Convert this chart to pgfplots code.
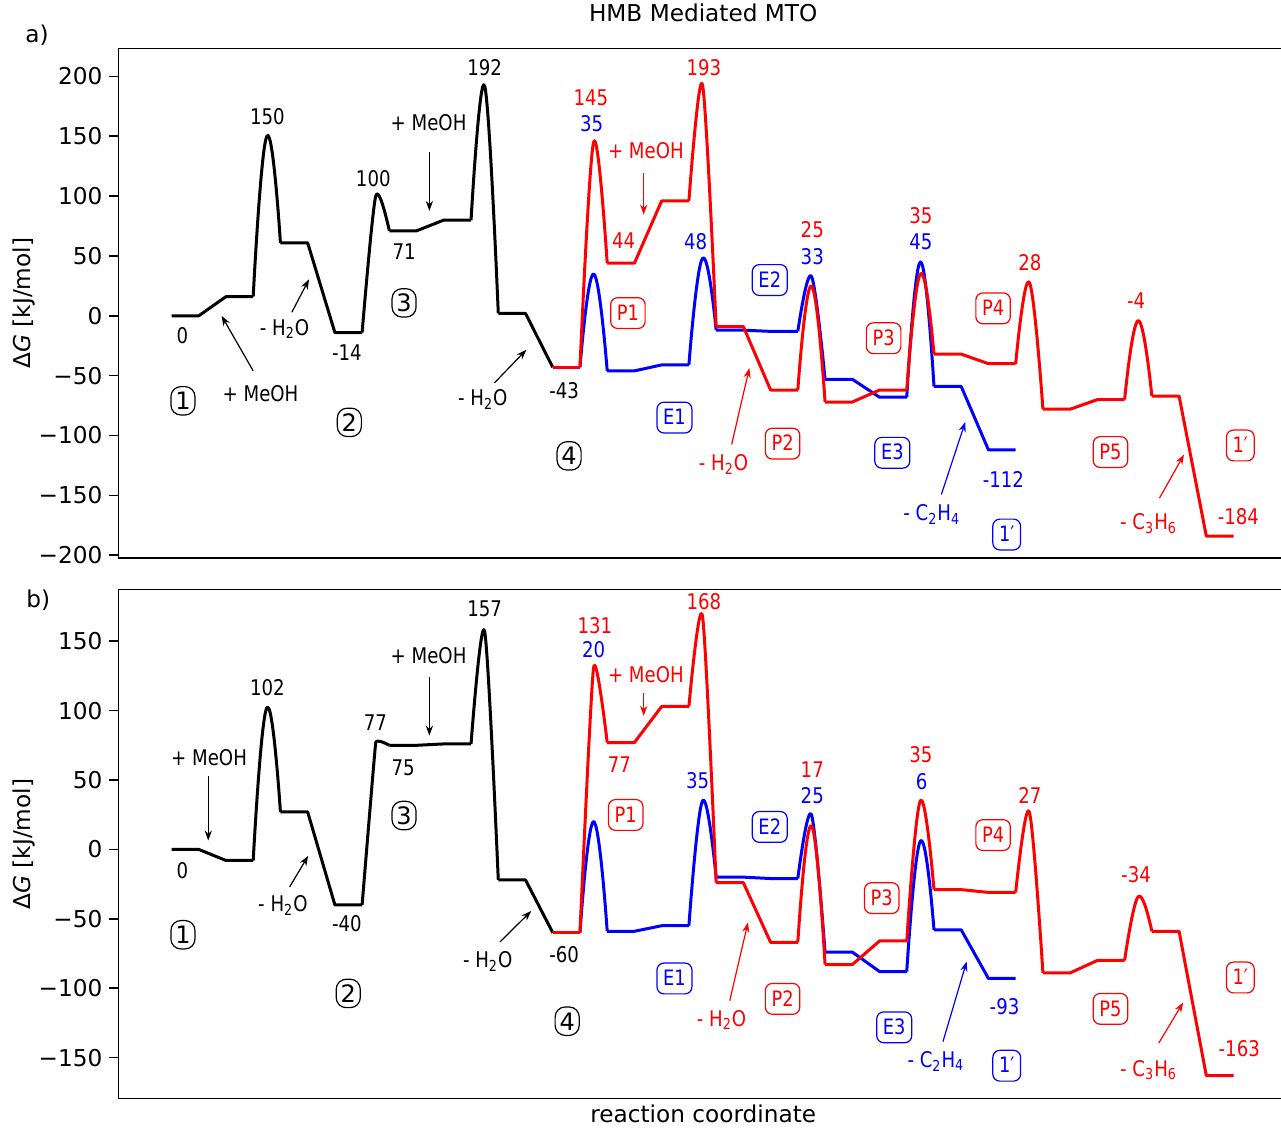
\documentclass[border=0pt]{standalone}
\usepackage{fontspec}
\setmainfont{DejaVu Sans}
\newfontfamily\annfont{DejaVu Sans}[FakeStretch=0.84]
\usepackage{pgfplots}
\pgfplotsset{compat=1.18}
\usetikzlibrary{arrows.meta}
\definecolor{mred}{rgb}{1,0,0}
\definecolor{mblue}{rgb}{0,0,1}
\tikzset{
  ann/.style={font=\annfont\fontsize{10.8bp}{12bp}\selectfont, inner sep=0pt},
  lbox/.style={draw, rounded corners=3.5bp, line width=0.6bp, font=\annfont\fontsize{10.6bp}{12bp}\selectfont, inner xsep=3.1bp, inner ysep=3.1bp, text height=8.2bp, text depth=1.0bp},
  cbox/.style={draw, rounded corners=5bp, line width=0.6bp, font=\fontsize{12bp}{14bp}\selectfont, inner xsep=2.2bp, inner ysep=2.7bp, text height=8.8bp, text depth=0bp},
  arr/.style={-{Stealth[length=5bp,width=3.6bp]}, line width=0.6bp},
}
\pgfplotsset{
  panel/.style={
    scale only axis, width=584.8bp, xmin=-1.95, xmax=41,
    xtick=\empty, axis line style={line width=0.8bp},
    ytick pos=left, tick align=outside, major tick length=4.5bp,
    every tick/.style={line width=0.8bp, black},
    ticklabel style={font=\fontsize{11.6bp}{13bp}\selectfont},
    clip=false,
    ylabel={Δ\textit{G} [kJ/mol]},
    every axis y label/.style={at={(axis description cs:-0.0811,0.5)}, rotate=90, anchor=center, font=\fontsize{11.6bp}{13bp}\selectfont},
  },
  lev/.style={line width=1.5bp, mark=none, sharp plot, line join=round},
  ts/.style={line width=1.5bp, mark=none, smooth, tension=0.8, line join=round},
}
\begin{document}
\begin{tikzpicture}
% ================= panel a =================
\begin{axis}[panel, at={(59.2bp,285bp)}, anchor=south west, height=254.8bp,
  ymin=-202.3, ymax=223.4,
  ytick={-200,-150,-100,-50,0,50,100,150,200},
  yticklabels={−200,−150,−100,−50,0,50,100,150,200},
  title={HMB Mediated MTO},
  title style={at={(axis description cs:0.5,1.0292)}, anchor=base, font=\fontsize{11.6bp}{13bp}\selectfont},
]
% black
\addplot[lev, black] coordinates {(0,0) (1,0) (2,16) (3,16)};
\addplot[ts, black] coordinates {(3,16) (3.5,150) (4,61)};
\addplot[lev, black] coordinates {(4,61) (5,61) (6,-14) (7,-14)};
\addplot[ts, black, tension=0.45] coordinates {(7,-14) (7.5,100) (8,71)};
\addplot[lev, black] coordinates {(8,71) (9,71) (10,80) (11,80)};
\addplot[ts, black, tension=0.65] coordinates {(11,80) (11.5,192) (12,2)};
\addplot[lev, black] coordinates {(12,2) (13,2) (14,-43)};
% blue
\addplot[lev, mblue] coordinates {(14,-43) (15,-43)};
\addplot[ts, mblue] coordinates {(15,-43) (15.5,35) (16,-46)};
\addplot[lev, mblue] coordinates {(16,-46) (17,-46) (18,-41) (19,-41)};
\addplot[ts, mblue] coordinates {(19,-41) (19.5,48) (20,-12)};
\addplot[lev, mblue] coordinates {(20,-12) (21,-12) (22,-13) (23,-13)};
\addplot[ts, mblue, tension=0.6] coordinates {(23,-13) (23.5,33) (24,-53)};
\addplot[lev, mblue] coordinates {(24,-53) (25,-53) (26,-68) (27,-68)};
\addplot[ts, mblue] coordinates {(27,-68) (27.5,45) (28,-59)};
\addplot[lev, mblue] coordinates {(28,-59) (29,-59) (30,-112) (31,-112)};
% red
\addplot[lev, mred] coordinates {(14,-43) (15,-43)};
\addplot[ts, mred, tension=0.6] coordinates {(15,-43) (15.5,145) (16,44)};
\addplot[lev, mred] coordinates {(16,44) (17,44) (18,96) (19,96)};
\addplot[ts, mred, tension=0.5] coordinates {(19,96) (19.5,193) (20,-9)};
\addplot[lev, mred] coordinates {(20,-9) (21,-9) (22,-62) (23,-62)};
\addplot[ts, mred] coordinates {(23,-62) (23.5,25) (24,-72)};
\addplot[lev, mred] coordinates {(24,-72) (25,-72) (26,-62) (27,-62)};
\addplot[ts, mred] coordinates {(27,-62) (27.5,35) (28,-32)};
\addplot[lev, mred] coordinates {(28,-32) (29,-32) (30,-40) (31,-40)};
\addplot[ts, mred, tension=0.7] coordinates {(31,-40) (31.5,28) (32,-78)};
\addplot[lev, mred] coordinates {(32,-78) (33,-78) (34,-70) (35,-70)};
\addplot[ts, mred] coordinates {(35,-70) (35.5,-4) (36,-67)};
\addplot[lev, mred] coordinates {(36,-67) (37,-67) (38,-184) (39,-184)};
% black annotations
\node[ann] at (axis cs:0.40,-16.2) {0};
\node[ann] at (axis cs:3.52,166.6) {150};
\node[ann] at (axis cs:4.15,-11) {- H\textsubscript{2}O};
\draw[arr] (axis cs:4.42,3) -- (axis cs:5.05,30.5);
\node[ann] at (axis cs:3.27,-65) {+ MeOH};
\draw[arr] (axis cs:3.0,-46) -- (axis cs:1.84,0);
\node[ann] at (axis cs:6.44,-31) {-14};
\node[ann] at (axis cs:7.41,115) {100};
\node[ann] at (axis cs:8.54,54) {71};
\node[ann] at (axis cs:9.44,161.4) {+ MeOH};
\draw[arr] (axis cs:9.47,137) -- (axis cs:9.47,87.6);
\node[ann] at (axis cs:11.5,207.6) {192};
\node[ann] at (axis cs:11.43,-70) {- H\textsubscript{2}O};
\draw[arr] (axis cs:11.86,-56) -- (axis cs:13.03,-28.4);
\node[ann] at (axis cs:14.42,-62.7) {-43};
\node[cbox] at (axis cs:0.42,-71) {1};
\node[cbox] at (axis cs:6.53,-89) {2};
\node[cbox] at (axis cs:8.54,10.8) {3};
\node[cbox] at (axis cs:14.6,-117) {4};
% red annotations
\begin{scope}[mred]
\node[ann] at (axis cs:15.4,181.8) {145};
\node[ann] at (axis cs:16.6,62.4) {44};
\node[ann] at (axis cs:17.42,137.7) {+ MeOH};
\draw[arr] (axis cs:17.34,119.5) -- (axis cs:17.34,84.6);
\node[lbox] at (axis cs:16.76,2.3) {P1};
\node[ann] at (axis cs:19.55,207.6) {193};
\node[ann] at (axis cs:23.53,71.8) {25};
\node[ann] at (axis cs:27.52,84) {35};
\node[lbox] at (axis cs:26.15,-18.7) {P3};
\node[lbox] at (axis cs:30.17,6.2) {P4};
\node[ann] at (axis cs:31.52,44.5) {28};
\node[ann] at (axis cs:35.42,12.3) {-4};
\node[ann] at (axis cs:20.27,-124.4) {- H\textsubscript{2}O};
\draw[arr] (axis cs:20.57,-107.4) -- (axis cs:21.22,-43.6);
\node[lbox] at (axis cs:22.44,-106.8) {P2};
\node[lbox] at (axis cs:34.48,-113.8) {P5};
\node[ann] at (axis cs:35.88,-173.6) {- C\textsubscript{3}H\textsubscript{6}};
\draw[arr] (axis cs:36.28,-152.3) -- (axis cs:37.18,-115.9);
\node[lbox] at (axis cs:39.25,-108.3) {1′};
\node[ann] at (axis cs:39.18,-168) {-184};
\end{scope}
% blue annotations
\begin{scope}[mblue]
\node[ann] at (axis cs:15.43,160.5) {35};
\node[ann] at (axis cs:19.25,61.8) {48};
\node[lbox] at (axis cs:21.97,29.9) {E2};
\node[ann] at (axis cs:23.53,49.7) {33};
\node[ann] at (axis cs:27.52,61.8) {45};
\node[lbox] at (axis cs:18.47,-85) {E1};
\node[lbox] at (axis cs:26.47,-114.4) {E3};
\node[ann] at (axis cs:27.92,-166) {- C\textsubscript{2}H\textsubscript{4}};
\draw[arr] (axis cs:28.27,-149.3) -- (axis cs:29.15,-88.6);
\node[ann] at (axis cs:30.55,-137) {-112};
\node[lbox] at (axis cs:30.67,-182.7) {1′};
\end{scope}
\end{axis}
% ================= panel b =================
\begin{axis}[panel, at={(59.2bp,14.75bp)}, anchor=south west, height=254.45bp,
  ymin=-179.5, ymax=187.2,
  ytick={-150,-100,-50,0,50,100,150},
  yticklabels={−150,−100,−50,0,50,100,150},
  xlabel={reaction coordinate},
  xlabel style={at={(axis description cs:0.5,-0.047)}, anchor=base, font=\fontsize{11.6bp}{13bp}\selectfont},
]
% black
\addplot[lev, black] coordinates {(0,0) (1,0) (2,-8) (3,-8)};
\addplot[ts, black] coordinates {(3,-8) (3.5,102) (4,27)};
\addplot[lev, black] coordinates {(4,27) (5,27) (6,-40) (7,-40)};
\addplot[ts, black, tension=0.1] coordinates {(7,-40) (7.5,77) (8,75)};
\addplot[lev, black] coordinates {(8,75) (9,75) (10,76) (11,76)};
\addplot[ts, black, tension=0.5] coordinates {(11,76) (11.5,157) (12,-22)};
\addplot[lev, black] coordinates {(12,-22) (13,-22) (14,-60)};
% blue
\addplot[lev, mblue] coordinates {(14,-60) (15,-60)};
\addplot[ts, mblue] coordinates {(15,-60) (15.5,20) (16,-59)};
\addplot[lev, mblue] coordinates {(16,-59) (17,-59) (18,-55) (19,-55)};
\addplot[ts, mblue, tension=0.7] coordinates {(19,-55) (19.5,35) (20,-20)};
\addplot[lev, mblue] coordinates {(20,-20) (21,-20) (22,-21) (23,-21)};
\addplot[ts, mblue, tension=0.55] coordinates {(23,-21) (23.5,25) (24,-74)};
\addplot[lev, mblue] coordinates {(24,-74) (25,-74) (26,-88) (27,-88)};
\addplot[ts, mblue] coordinates {(27,-88) (27.5,6) (28,-58)};
\addplot[lev, mblue] coordinates {(28,-58) (29,-58) (30,-93) (31,-93)};
% red
\addplot[lev, mred] coordinates {(14,-60) (15,-60)};
\addplot[ts, mred, tension=0.35] coordinates {(15,-60) (15.5,131) (16,77)};
\addplot[lev, mred] coordinates {(16,77) (17,77) (18,103) (19,103)};
\addplot[ts, mred, tension=0.45] coordinates {(19,103) (19.5,168) (20,-24)};
\addplot[lev, mred] coordinates {(20,-24) (21,-24) (22,-67) (23,-67)};
\addplot[ts, mred] coordinates {(23,-67) (23.5,17) (24,-83)};
\addplot[lev, mred] coordinates {(24,-83) (25,-83) (26,-66) (27,-66)};
\addplot[ts, mred, tension=0.7] coordinates {(27,-66) (27.5,35) (28,-29)};
\addplot[lev, mred] coordinates {(28,-29) (29,-29) (30,-31) (31,-31)};
\addplot[ts, mred, tension=0.55] coordinates {(31,-31) (31.5,27) (32,-89)};
\addplot[lev, mred] coordinates {(32,-89) (33,-89) (34,-80) (35,-80)};
\addplot[ts, mred, tension=0.7] coordinates {(35,-80) (35.5,-34) (36,-59)};
\addplot[lev, mred] coordinates {(36,-59) (37,-59) (38,-163) (39,-163)};
% black annotations
\node[ann] at (axis cs:1.38,65.9) {+ MeOH};
\draw[arr] (axis cs:1.35,52.6) -- (axis cs:1.35,6.4);
\node[ann] at (axis cs:0.40,-15.4) {0};
\node[ann] at (axis cs:3.52,116.7) {102};
\node[ann] at (axis cs:4.09,-40.3) {- H\textsubscript{2}O};
\draw[arr] (axis cs:4.34,-27) -- (axis cs:5.02,-4.6);
\node[ann] at (axis cs:6.44,-53.8) {-40};
\node[ann] at (axis cs:7.49,91) {77};
\node[ann] at (axis cs:8.51,59) {75};
\node[ann] at (axis cs:9.44,139.7) {+ MeOH};
\draw[arr] (axis cs:9.47,124.4) -- (axis cs:9.47,82);
\node[ann] at (axis cs:11.5,173.6) {157};
\node[ann] at (axis cs:11.61,-80.8) {- H\textsubscript{2}O};
\draw[arr] (axis cs:12.06,-66.7) -- (axis cs:13.21,-44.4);
\node[ann] at (axis cs:14.42,-75.6) {-60};
\node[cbox] at (axis cs:0.42,-61.5) {1};
\node[cbox] at (axis cs:6.49,-103.8) {2};
\node[cbox] at (axis cs:8.54,24.4) {3};
\node[cbox] at (axis cs:14.53,-123.8) {4};
% red annotations
\begin{scope}[mred]
\node[ann] at (axis cs:15.55,161.5) {131};
\node[ann] at (axis cs:16.45,60.8) {77};
\node[lbox] at (axis cs:16.68,24.8) {P1};
\node[ann] at (axis cs:17.42,125.7) {+ MeOH};
\draw[arr] (axis cs:17.34,112.8) -- (axis cs:17.34,96.2);
\node[ann] at (axis cs:19.55,178.2) {168};
\node[ann] at (axis cs:23.53,57.2) {17};
\node[ann] at (axis cs:27.52,68) {35};
\node[lbox] at (axis cs:26.08,-35.1) {P3};
\node[lbox] at (axis cs:30.17,10.3) {P4};
\node[ann] at (axis cs:31.52,39.2) {27};
\node[ann] at (axis cs:35.42,-17.9) {-34};
\node[ann] at (axis cs:20.2,-123) {- H\textsubscript{2}O};
\draw[arr] (axis cs:20.5,-109) -- (axis cs:21.17,-52.6);
\node[lbox] at (axis cs:22.44,-107.7) {P2};
\node[lbox] at (axis cs:34.48,-114.9) {P5};
\node[ann] at (axis cs:35.88,-159) {- C\textsubscript{3}H\textsubscript{6}};
\draw[arr] (axis cs:36.25,-139.7) -- (axis cs:37.15,-110.3);
\node[lbox] at (axis cs:39.25,-92.3) {1′};
\node[ann] at (axis cs:39.21,-143.6) {-163};
\end{scope}
% blue annotations
\begin{scope}[mblue]
\node[ann] at (axis cs:15.5,143.6) {20};
\node[ann] at (axis cs:19.32,49.5) {35};
\node[lbox] at (axis cs:21.97,16.2) {E2};
\node[ann] at (axis cs:23.53,38.5) {25};
\node[ann] at (axis cs:27.55,48.7) {6};
\node[lbox] at (axis cs:18.47,-93) {E1};
\node[lbox] at (axis cs:26.54,-128.2) {E3};
\node[ann] at (axis cs:28.07,-152.6) {- C\textsubscript{2}H\textsubscript{4}};
\draw[arr] (axis cs:28.33,-138.5) -- (axis cs:29.2,-80.8);
\node[ann] at (axis cs:30.59,-113) {-93};
\node[lbox] at (axis cs:30.67,-155.9) {1′};
\end{scope}
\end{axis}
\node[anchor=base west, font=\fontsize{11.6bp}{13bp}\selectfont, inner sep=0pt] at (12.5bp,542.5bp) {a)};
\node[anchor=base west, font=\fontsize{11.6bp}{13bp}\selectfont, inner sep=0pt] at (13bp,260bp) {b)};
\pgfresetboundingbox
\useasboundingbox (0,0) rectangle (640.5bp,564bp);
\end{tikzpicture}
\end{document}
